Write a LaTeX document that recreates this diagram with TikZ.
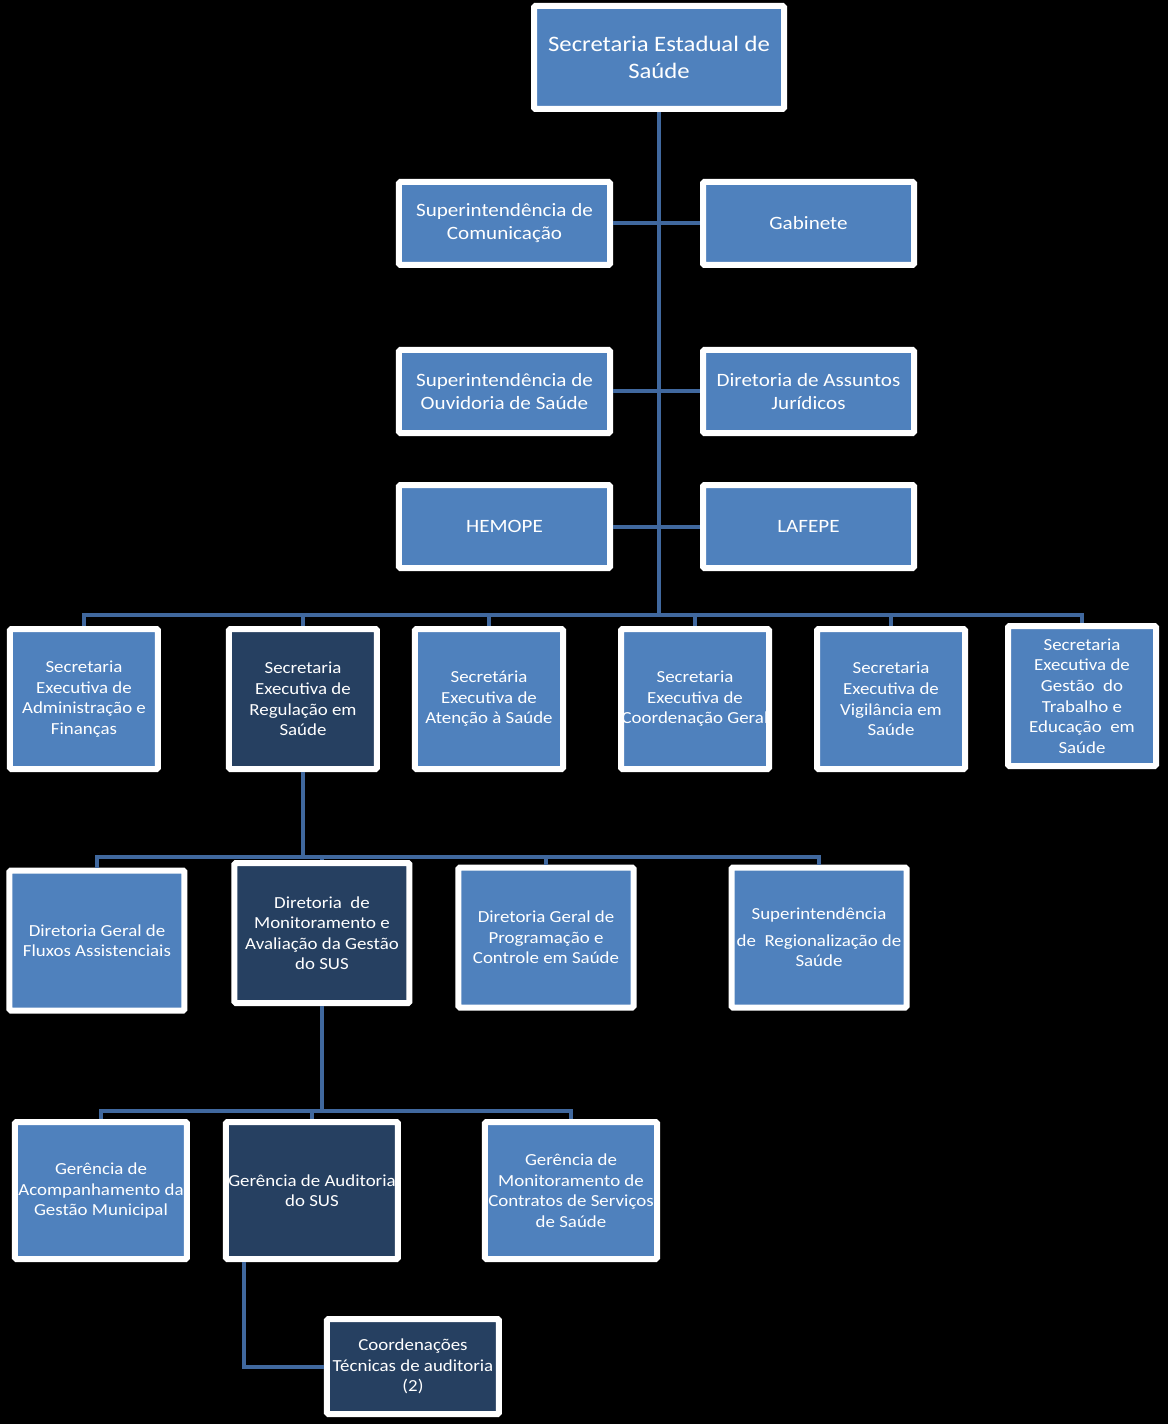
\documentclass[tikz,border=0pt]{standalone}
\usepackage{fontspec}
\setmainfont{Carlito}[FakeStretch=1.12]
\usepackage{tikz}
\usetikzlibrary{calc, positioning}
\definecolor{azul}{RGB}{79,129,189}
\definecolor{azulescuro}{RGB}{38,64,97}
\definecolor{linha}{RGB}{64,104,158}
\tikzset{
  caixa/.style={
    rectangle, rounded corners=1pt, align=center, inner sep=0pt,
    draw=white, line width=0.15cm, fill=azul, text=white,
    font=\fontsize{12}{14.6}\selectfont
  },
  secretaria/.style={
    caixa, minimum width=6.25cm, minimum height=2.575cm,
    font=\fontsize{15.7}{19.2}\selectfont
  },
  orgao/.style={
    caixa, minimum width=5.275cm, minimum height=2.075cm,
    font=\fontsize{13.4}{16.4}\selectfont
  },
  executiva/.style={
    caixa, minimum width=3.7cm, minimum height=3.5cm
  },
  diretoria/.style={
    caixa, minimum width=4.375cm, minimum height=3.5cm
  },
  gerencia/.style={
    caixa, minimum width=4.3cm, minimum height=3.425cm
  },
  coordenacao/.style={
    caixa, minimum width=4.3cm, minimum height=2.375cm
  },
  destaque/.style={fill=azulescuro},
  ligacao/.style={
    line width=0.1cm, color=linha
  }
}

\begin{document}
\begin{tikzpicture}

% Fundo
\fill[black] (-16.475,1.4375) rectangle (12.725,-34.1625);

% Secretaria
\node (ses) [secretaria] {Secretaria Estadual de\\Saúde};

% Orgaos ligados ao tronco
\node (comunicacao) [orgao, below=1.675cm of ses, xshift=-3.8625cm] {Superintendência de\\Comunicação};
\node (gabinete) [orgao, right=2.175cm of comunicacao] {Gabinete};
\node (ouvidoria) [orgao, below=1.975cm of comunicacao] {Superintendência de\\Ouvidoria de Saúde};
\node (juridicos) [orgao, right=2.175cm of ouvidoria] {Diretoria de Assuntos\\Jurídicos};
\node (hemope) [orgao, below=1.15cm of ouvidoria] {HEMOPE};
\node (lafepe) [orgao, right=2.175cm of hemope] {LAFEPE};

% Secretarias executivas
\node (regulacao) [executiva, destaque, below=1.375cm of hemope, xshift=-5.0375cm] {Secretaria\\Executiva de\\Regulação em\\Saúde};
\node (adm) [executiva, left=1.625cm of regulacao] {Secretaria\\Executiva de\\Administração e\\Finanças};
\node (atencao) [executiva, right=0.8cm of regulacao] {Secretária\\Executiva de\\Atenção à Saúde};
\node (coordgeral) [executiva, right=1.3cm of atencao] {Secretaria\\Executiva de\\Coordenação Geral};
\node (vigilancia) [executiva, right=1.05cm of coordgeral] {Secretaria\\Executiva de\\Vigilância em\\Saúde};
\node (gestao) [executiva, right=0.925cm of vigilancia, yshift=0.075cm] {Secretaria\\Executiva de\\Gestão\ \ do\\Trabalho e\\Educação\ \ em\\Saúde};

% Diretorias
\node (monitoramento) [diretoria, destaque, below=2.2cm of regulacao, xshift=0.475cm] {Diretoria\ \ de\\Monitoramento e\\Avaliação da Gestão\\do SUS};
\node (fluxos) [diretoria, left=1.1cm of monitoramento, yshift=-0.1875cm] {Diretoria Geral de\\Fluxos Assistenciais};
\node (programacao) [diretoria, right=1.075cm of monitoramento, yshift=-0.1125cm] {Diretoria Geral de\\Programação e\\Controle em Saúde};
\node (regionalizacao) [diretoria, right=2.3cm of programacao] {Superintendência\\[0.15cm] de\ \ Regionalização de\\Saúde};

% Gerencias
\node (auditoria) [gerencia, destaque, below=2.825cm of monitoramento, xshift=-0.25cm] {Gerência de Auditoria\\do SUS};
\node (acompanhamento) [gerencia, left=0.825cm of auditoria] {Gerência de\\Acompanhamento da\\Gestão Municipal};
\node (contratos) [gerencia, right=2.025cm of auditoria] {Gerência de\\Monitoramento de\\Contratos de Serviços\\de Saúde};
\node (tecnicas) [coordenacao, destaque, below=1.35cm of auditoria, xshift=2.525cm] {Coordenações\\Técnicas de auditoria\\(2)};

% Barramentos
\coordinate (barra1) at ($(regulacao.north)+(0,0.275)$);
\coordinate (barra2) at ($(monitoramento.north)+(0,0.075)$);
\coordinate (barra3) at ($(auditoria.north)+(0,0.2)$);

% Tronco e orgaos
\draw [ligacao] (ses.south) -- (ses.south |- barra1);
\draw [ligacao] (comunicacao) -- (gabinete);
\draw [ligacao] (ouvidoria) -- (juridicos);
\draw [ligacao] (hemope) -- (lafepe);

% Tronco para secretarias executivas
\foreach \sec in {adm, regulacao, atencao, coordgeral, vigilancia, gestao} {
  \draw [ligacao] (ses.south |- barra1) -| (\sec.north);
}

% Regulacao para diretorias
\draw [ligacao] (regulacao.south) -- (regulacao.south |- barra2);
\foreach \dir in {fluxos, monitoramento, programacao, regionalizacao} {
  \draw [ligacao] (regulacao.south |- barra2) -| (\dir.north);
}

% Monitoramento para gerencias
\draw [ligacao] (monitoramento.south) -- (monitoramento.south |- barra3);
\foreach \ger in {acompanhamento, auditoria, contratos} {
  \draw [ligacao] (monitoramento.south |- barra3) -| (\ger.north);
}

% Auditoria para coordenacoes
\draw [ligacao] ([xshift=-1.7cm]auditoria.south) |- (tecnicas.west);

\end{tikzpicture}
\end{document}
